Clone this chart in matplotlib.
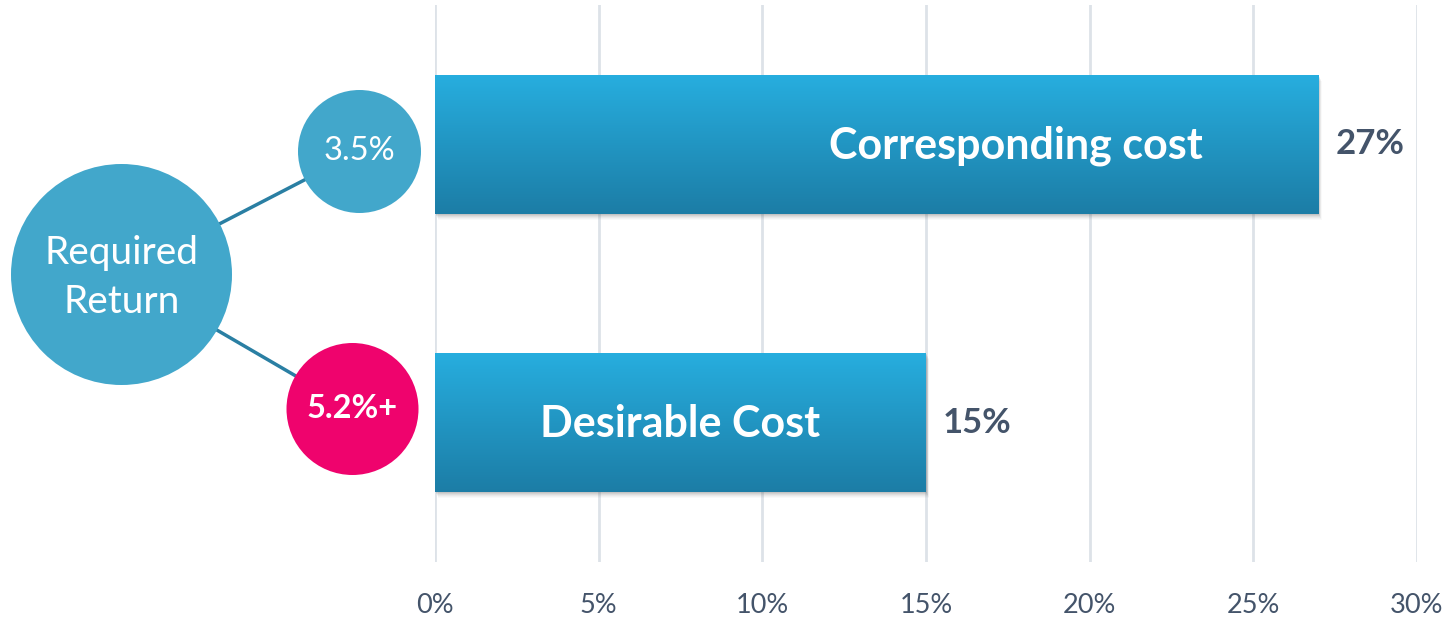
import numpy as np
import matplotlib.pyplot as plt
from matplotlib.patches import Circle, Rectangle
from matplotlib.colors import LinearSegmentedColormap
from matplotlib.ticker import FuncFormatter

plt.rcParams['font.family'] = ['Lato', 'DejaVu Sans']

# bar data
categories = ['Corresponding cost', 'Desirable Cost']
costs = [27, 15]
label_x = [17.75, 7.5]          # where the in-bar caption sits
xticks = [0, 5, 10, 15, 20, 25, 30]

# bubble diagram on the left
hub_text = 'Required\nReturn'
return_labels = ['3.5%', '5.2%+']

W, H = 1447, 618
fig = plt.figure(figsize=(W / 100, H / 100), dpi=100)
fig.patch.set_facecolor('white')

ax = fig.add_axes([435 / W, 1 - 562 / H, 982 / W, 557 / H])
ypos = np.arange(len(categories))
bars = ax.barh(ypos, costs, height=0.5, color='none', zorder=3)

ax.set_xlim(0, 30)
ax.set_ylim(1.5, -0.5)
ax.set_xticks(xticks)
ax.xaxis.set_major_formatter(FuncFormatter(lambda v, p: f'{v:.0f}%'))
ax.tick_params(axis='x', length=0, pad=22, labelsize=19.5, labelcolor='#44546A')
ax.set_yticks([])
for s in ax.spines.values():
    s.set_visible(False)
ax.grid(axis='x', color='#DDE2E8', linewidth=2, zorder=0)

grad = LinearSegmentedColormap.from_list('bar', ['#27AEDF', '#1C7DA6'])
px_x = 30 / 982
px_y = 2 / 557
for b, cat, val, lx in zip(bars, categories, costs, label_x):
    x0, y0 = b.get_x(), b.get_y()
    w, h = b.get_width(), b.get_height()
    # soft drop shadow
    for k, a in zip(range(6, 0, -1), [0.03, 0.04, 0.05, 0.07, 0.09, 0.11]):
        ax.add_patch(Rectangle((x0 + k * 0.5 * px_x, y0 + k * px_y), w, h,
                               facecolor='#555555', edgecolor='none', alpha=a, zorder=2))
    img = ax.imshow(np.linspace(0, 1, 256).reshape(-1, 1), cmap=grad, aspect='auto',
                    extent=(x0, x0 + w, y0 + h, y0), zorder=3, interpolation='bicubic')
    clip = Rectangle((x0, y0), w, h, transform=ax.transData, facecolor='none', edgecolor='none')
    ax.add_patch(clip)
    img.set_clip_path(clip)
    ax.text(lx, y0 + h / 2 + 0.005, cat, ha='center', va='center', color='white',
            fontsize=31, fontweight='bold', zorder=4)
    ax.text(val + 0.5, y0 + h / 2, f'{val}%', ha='left', va='center', color='#44546A',
            fontsize=25, fontweight='bold', zorder=4)

ax.set_xlim(0, 30)
ax.set_ylim(1.5, -0.5)

# overlay in pixel space for the bubbles
ov = fig.add_axes([0, 0, 1, 1], zorder=5)
ov.set_xlim(0, W)
ov.set_ylim(H, 0)
ov.axis('off')
ov.patch.set_alpha(0)

hub = (121.5, 274.5, 110.5)
nodes = [(359.5, 151.5, 61.5, '#42A7CB', 'normal'),
         (352.5, 409.0, 66.0, '#EF036D', 'bold')]
for (cx, cy, r, col, wt), lab in zip(nodes, return_labels):
    ang = np.arctan2(cy - hub[1], cx - hub[0])
    ov.plot([hub[0] + hub[2] * np.cos(ang), cx - r * np.cos(ang)],
            [hub[1] + hub[2] * np.sin(ang), cy - r * np.sin(ang)],
            color='#2A7FA3', linewidth=2.5, zorder=1)
    ov.add_patch(Circle((cx, cy), r, facecolor=col, edgecolor='none', zorder=2))
    ov.text(cx, cy, lab, ha='center', va='center', color='white', fontsize=23.5,
            fontweight=wt, zorder=3)
ov.add_patch(Circle(hub[:2], hub[2], facecolor='#42A7CB', edgecolor='none', zorder=2))
ov.text(hub[0], hub[1] + 3, hub_text, ha='center', va='center', color='white', fontsize=28,
        linespacing=1.45, zorder=3)

fig.savefig('out.png', dpi=100)
